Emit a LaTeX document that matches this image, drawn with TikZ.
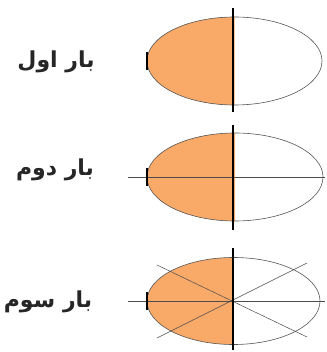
\documentclass[tikz,border=0pt]{standalone}
\usepackage{fontspec}
\newfontfamily\arabicfont[Script=Arabic]{DejaVu Sans}
\TeXXeTstate=1
\definecolor{fillor}{HTML}{F9A968}
\definecolor{outl}{HTML}{555555}
\begin{document}
\begin{tikzpicture}[x=1pt,y=-1pt,
  lab/.style={font=\arabicfont\bfseries\fontsize{22}{24}\selectfont, text=black!85, anchor=center, inner sep=0pt},
  oval/.style={draw=outl, line width=0.6pt},
  thin/.style={draw=black!70, line width=0.5pt},
  axis/.style={draw=black, line width=1.6pt},
  tick/.style={draw=black, line width=1.6pt}]
\useasboundingbox (0,0) rectangle (326,352);
% ---- first
\coordinate (c1) at (234.5,61);
\fill[fillor] (234.5,17) arc[start angle=270,end angle=90,x radius=87.5,y radius=44] -- cycle;
\draw[oval] (c1) ellipse[x radius=87.5,y radius=44];
\coordinate (t1a) at (233,8); \coordinate (t1b) at (233,112);
\draw[axis] (t1a) -- (t1b);
\coordinate (k1a) at (147,52); \coordinate (k1b) at (147,70);
\draw[tick] (k1a) -- (k1b);
\node[lab] (l1) at (56,62) {\beginR بار اول\endR};
% ---- second
\coordinate (c2) at (235,177);
\fill[fillor] (235,133) arc[start angle=270,end angle=90,x radius=88,y radius=44] -- cycle;
\draw[oval] (c2) ellipse[x radius=88,y radius=44];
\coordinate (h2a) at (128,177); \coordinate (h2b) at (325,177);
\draw[thin] (h2a) -- (h2b);
\coordinate (t2a) at (233,125); \coordinate (t2b) at (233,230);
\draw[axis] (t2a) -- (t2b);
\coordinate (k2a) at (147,168); \coordinate (k2b) at (147,186);
\draw[tick] (k2a) -- (k2b);
\node[lab] (l2) at (55,170) {\beginR بار دوم\endR};
% ---- third
\coordinate (c3) at (233.5,301);
\fill[fillor] (233.5,257.5) arc[start angle=270,end angle=90,x radius=86.5,y radius=43.5] -- cycle;
\draw[oval] (c3) ellipse[x radius=86.5,y radius=43.5];
\coordinate (h3a) at (128,301); \coordinate (h3b) at (325,301);
\draw[thin] (h3a) -- (h3b);
\coordinate (d1a) at (157,265); \coordinate (d1b) at (307,337);
\coordinate (d2a) at (157,338); \coordinate (d2b) at (307,263);
\draw[thin] (d1a) -- (d1b);
\draw[thin] (d2a) -- (d2b);
\coordinate (t3a) at (233,248); \coordinate (t3b) at (233,350);
\draw[axis] (t3a) -- (t3b);
\coordinate (k3a) at (147,292); \coordinate (k3b) at (147,310);
\draw[tick] (k3a) -- (k3b);
\node[lab] (l3) at (48,302) {\beginR بار سوم\endR};
\end{tikzpicture}
\end{document}
